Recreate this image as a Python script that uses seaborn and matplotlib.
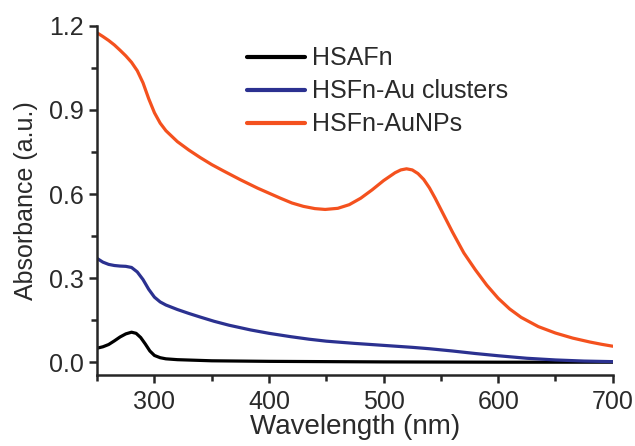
import matplotlib
matplotlib.use('Agg')
import matplotlib.pyplot as plt
import pandas as pd
import seaborn as sns
from matplotlib.ticker import MultipleLocator, FormatStrFormatter

# values
wl_hsafn = [250, 255, 260, 265, 270, 275, 280, 284, 288, 292, 296, 300, 305, 310, 320, 335, 350,
            400, 450, 500, 600, 700]
abs_hsafn = [0.05, 0.055, 0.063, 0.076, 0.09, 0.101, 0.107, 0.103, 0.088, 0.065, 0.04, 0.024, 0.016,
             0.012, 0.009, 0.007, 0.005, 0.003, 0.002, 0.001, 0.0, 0.0]

wl_clusters = [250, 255, 260, 265, 270, 275, 280, 285, 290, 295, 300, 305, 310, 320, 330, 340, 352,
               365, 384, 400, 419, 435, 450, 475, 500, 525, 540, 560, 580, 600, 625, 650, 675, 700]
abs_clusters = [0.37, 0.357, 0.349, 0.345, 0.343, 0.342, 0.338, 0.322, 0.295, 0.26, 0.232, 0.215,
                0.204, 0.188, 0.174, 0.161, 0.146, 0.132, 0.115, 0.103, 0.091, 0.082, 0.075, 0.067,
                0.06, 0.053, 0.048, 0.04, 0.031, 0.023, 0.014, 0.008, 0.004, 0.002]

wl_aunps = [250, 255, 260, 265, 270, 275, 280, 285, 290, 295, 300, 305, 310, 320, 330, 340, 350,
            360, 375, 390, 400, 410, 420, 430, 440, 449, 460, 470, 480, 490, 500, 510, 515, 520,
            525, 530, 535, 540, 545, 550, 555, 560, 570, 580, 590, 600, 610, 620, 635, 650, 665,
            680, 690, 700]
abs_aunps = [1.175, 1.162, 1.148, 1.132, 1.113, 1.093, 1.07, 1.04, 0.997, 0.94, 0.89, 0.853, 0.826,
             0.787, 0.757, 0.73, 0.705, 0.683, 0.651, 0.621, 0.603, 0.585, 0.568, 0.556, 0.548,
             0.545, 0.549, 0.562, 0.585, 0.615, 0.648, 0.676, 0.686, 0.69, 0.686, 0.673, 0.652,
             0.622, 0.585, 0.545, 0.505, 0.465, 0.39, 0.33, 0.275, 0.228, 0.19, 0.16, 0.127, 0.104,
             0.086, 0.072, 0.064, 0.057]

labels = ['HSAFn', 'HSFn-Au clusters', 'HSFn-AuNPs']
colors = ['#000000', '#2b3190', '#f4511e']

df = pd.concat([
    pd.DataFrame({'wl': wl_hsafn, 'abs': abs_hsafn, 'sample': labels[0]}),
    pd.DataFrame({'wl': wl_clusters, 'abs': abs_clusters, 'sample': labels[1]}),
    pd.DataFrame({'wl': wl_aunps, 'abs': abs_aunps, 'sample': labels[2]}),
])

sns.set_style('ticks')
plt.rcParams['font.family'] = ['Liberation Sans', 'DejaVu Sans']

fig = plt.figure(figsize=(6.35, 4.46), dpi=100)
ax = fig.add_axes([0.153, 0.159, 0.812, 0.783])

sns.lineplot(data=df, x='wl', y='abs', hue='sample', hue_order=labels,
             palette=colors, linewidth=2.3, ax=ax, sort=False)

ax.set_xlim(250, 700)
ax.set_ylim(-0.046, 1.2)
ax.xaxis.set_major_locator(MultipleLocator(100))
ax.xaxis.set_minor_locator(MultipleLocator(50))
ax.yaxis.set_major_locator(MultipleLocator(0.3))
ax.yaxis.set_minor_locator(MultipleLocator(0.15))
ax.yaxis.set_major_formatter(FormatStrFormatter('%.1f'))

txt = '#2a2a2a'
sns.despine(ax=ax)
for s in ['left', 'bottom']:
    ax.spines[s].set_linewidth(1.8)
ax.tick_params(which='major', length=6, width=1.8, labelsize=18, labelcolor=txt)
ax.tick_params(which='minor', length=4, width=1.8)
ax.tick_params(axis='x', which='major', pad=5)

ax.set_xlabel('Wavelength (nm)', fontsize=20, color=txt, labelpad=0)
ax.set_ylabel('Absorbance (a.u.)', fontsize=18, color=txt, labelpad=8)

leg = ax.legend(loc='upper left', bbox_to_anchor=(0.272, 0.97), frameon=False,
                fontsize=18, handlelength=2.3, handletextpad=0.3, labelspacing=0.36,
                borderaxespad=0)
for line in leg.get_lines():
    line.set_linewidth(3)
for t in leg.get_texts():
    t.set_color(txt)

fig.savefig('out.png', dpi=100)
